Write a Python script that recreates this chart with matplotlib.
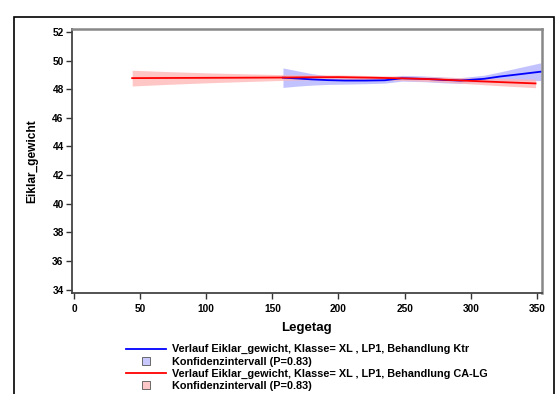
import matplotlib.pyplot as plt
from matplotlib.lines import Line2D
from matplotlib.patches import Rectangle

# Ktr (blue) smoothed course with confidence band
ktr_day = [158, 170, 180, 192, 205, 220, 235, 248, 265, 280, 292, 310, 322, 335, 353]
ktr_mean = [48.80, 48.74, 48.68, 48.63, 48.60, 48.60, 48.62, 48.76, 48.72, 48.64, 48.60, 48.72, 48.88, 49.02, 49.22]
ktr_ci = [0.68, 0.52, 0.40, 0.30, 0.25, 0.22, 0.20, 0.20, 0.20, 0.20, 0.20, 0.25, 0.32, 0.45, 0.62]

# CA-LG (red)
calg_day = [44, 70, 100, 130, 158, 180, 200, 225, 250, 275, 294, 320, 349]
calg_mean = [48.77, 48.78, 48.79, 48.80, 48.81, 48.83, 48.84, 48.80, 48.75, 48.68, 48.60, 48.50, 48.40]
calg_ci = [0.55, 0.45, 0.35, 0.27, 0.20, 0.17, 0.15, 0.15, 0.15, 0.17, 0.20, 0.25, 0.30]

x_ticks = [0, 50, 100, 150, 200, 250, 300, 350]
y_ticks = [34, 36, 38, 40, 42, 44, 46, 48, 50, 52]

label_ktr = "Verlauf Eiklar_gewicht, Klasse= XL , LP1, Behandlung Ktr"
label_calg = "Verlauf Eiklar_gewicht, Klasse= XL , LP1, Behandlung CA-LG"
label_ci = "Konfidenzintervall (P=0.83)"

plt.rcParams['font.family'] = ['Liberation Sans', 'DejaVu Sans']
plt.rcParams['font.weight'] = 'bold'

fig = plt.figure(figsize=(5.55, 3.94), dpi=100)
ax = fig.add_axes([0.1297, 0.2576, 0.846, 0.6688])

lo = [m - c for m, c in zip(ktr_mean, ktr_ci)]
hi = [m + c for m, c in zip(ktr_mean, ktr_ci)]
ax.fill_between(ktr_day, lo, hi, color='#bcbcff', alpha=0.9, linewidth=0)
lo = [m - c for m, c in zip(calg_mean, calg_ci)]
hi = [m + c for m, c in zip(calg_mean, calg_ci)]
ax.fill_between(calg_day, lo, hi, color='#ffb4b4', alpha=0.75, linewidth=0)

ax.plot(ktr_day, ktr_mean, color='#0000ff', linewidth=1.3)
ax.plot(calg_day, calg_mean, color='#ff0000', linewidth=1.3)

ax.set_xlim(-1.5, 353.5)
ax.set_ylim(33.8, 52.2)
ax.set_xticks(x_ticks)
ax.set_yticks(y_ticks)
ax.tick_params(labelsize=7.3, length=4, width=1, color='#333333')
ax.tick_params(axis='x', pad=4)
ax.tick_params(axis='y', pad=2)
for lab in ax.get_xticklabels() + ax.get_yticklabels():
    lab.set_fontweight('bold')
ax.set_xlabel("Legetag", fontsize=9.5, fontweight='bold', labelpad=6)
ax.set_ylabel("Eiklar_gewicht", fontsize=8.6, fontweight='bold', labelpad=10)

for side in ['left', 'bottom']:
    ax.spines[side].set_color('#444444')
    ax.spines[side].set_linewidth(1.3)
for side in ['top', 'right']:
    ax.spines[side].set_color('#888888')
    ax.spines[side].set_linewidth(1.8)

handles = [
    Line2D([], [], color='#0000ff', linewidth=1.3),
    Line2D([], [], marker='s', linestyle='none', markersize=6,
           markerfacecolor='#c8c8ff', markeredgecolor='#555555', markeredgewidth=0.6),
    Line2D([], [], color='#ff0000', linewidth=1.3),
    Line2D([], [], marker='s', linestyle='none', markersize=6,
           markerfacecolor='#ffc8c8', markeredgecolor='#555555', markeredgewidth=0.6),
]
labels = [label_ktr, label_ci, label_calg, label_ci]
fig.legend(handles, labels, loc='upper left', bbox_to_anchor=(0.227, 0.126),
           frameon=False, prop={'size': 7.8, 'weight': 'bold'},
           handlelength=3.7, handletextpad=0.55, labelspacing=0.19,
           borderpad=0, borderaxespad=0)

# outer frame around the graph
fig.patches.append(Rectangle((14 / 555, -0.05), 540 / 555, 1 - 17 / 394 + 0.05,
                             transform=fig.transFigure, fill=False,
                             edgecolor='black', linewidth=1.2))

fig.savefig("out.png", dpi=100)
